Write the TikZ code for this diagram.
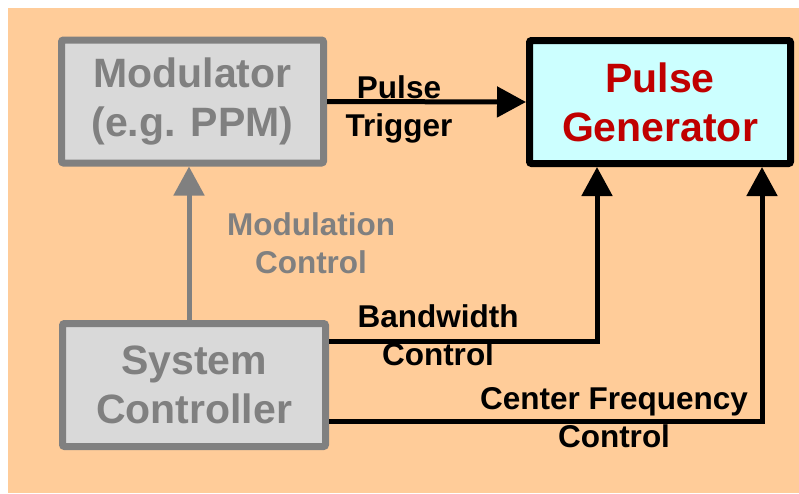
\documentclass[tikz,border=0pt]{standalone}
\usepackage{fontspec}
\setmainfont{Liberation Sans}
\usetikzlibrary{arrows.meta}
\definecolor{peach}{HTML}{FFCC99}
\definecolor{midgray}{HTML}{808080}
\definecolor{lightfill}{HTML}{D9D9D9}
\definecolor{cyanfill}{HTML}{CCFFFF}
\definecolor{darkred}{HTML}{C00000}
\tikzset{
  blockbase/.style={line width=7pt, rounded corners=2pt, inner sep=0pt,
    minimum width=262pt, minimum height=123pt, align=center,
    font=\fontsize{41}{49}\selectfont\bfseries},
  grayblock/.style={blockbase, draw=midgray, fill=lightfill, text=midgray},
  genblock/.style={blockbase, draw=black, fill=cyanfill, text=darkred},
  tiphead/.tip={Triangle[length=29pt,width=30pt]},
  conn/.style={line width=5pt, draw=black, -tiphead},
  grayconn/.style={line width=5pt, draw=midgray, -tiphead},
  lbl/.style={anchor=base, inner sep=0pt, align=center,
    font=\fontsize{31.5}{38}\selectfont\bfseries}
}
\begin{document}
\begin{tikzpicture}[x=1pt,y=-1pt]
\useasboundingbox (0,0) rectangle (799,493);
% backdrop
\fill[peach] (8,8) rectangle (799,493);

% blocks
\node[grayblock] (mod) at (192.5,101.5) {Modulator\\(e.g. PPM)};
\node[genblock, minimum width=261pt] (gen) at (660,102) {Pulse\\Generator};
\node[grayblock, minimum width=263pt] (sys) at (194,385) {System\\Controller};

% routing points of the control lines
\coordinate (bw) at (597,341);
\coordinate (cf) at (762,421);
\coordinate (mc) at (189,0);

% connectors
\draw[conn] (mod.east) -- (gen.west);
\draw[conn] (sys.east |- bw) -| (gen.south -| bw);
\draw[conn] (sys.east |- cf) -| (gen.south -| cf);
\draw[grayconn] (sys.north -| mc) -- (mod.south -| mc);

% connector labels (anchored on the baseline of the second line)
\node[lbl] (ltrig) at (399,136) {Pulse\\Trigger};
\node[lbl, text=midgray] (lmod) at (311,273) {Modulation\\Control};
\node[lbl] (lbw) at (438,365) {Bandwidth\\Control};
\node[lbl] (lcf) at (614,447) {Center Frequency\\Control};
\end{tikzpicture}
\end{document}
